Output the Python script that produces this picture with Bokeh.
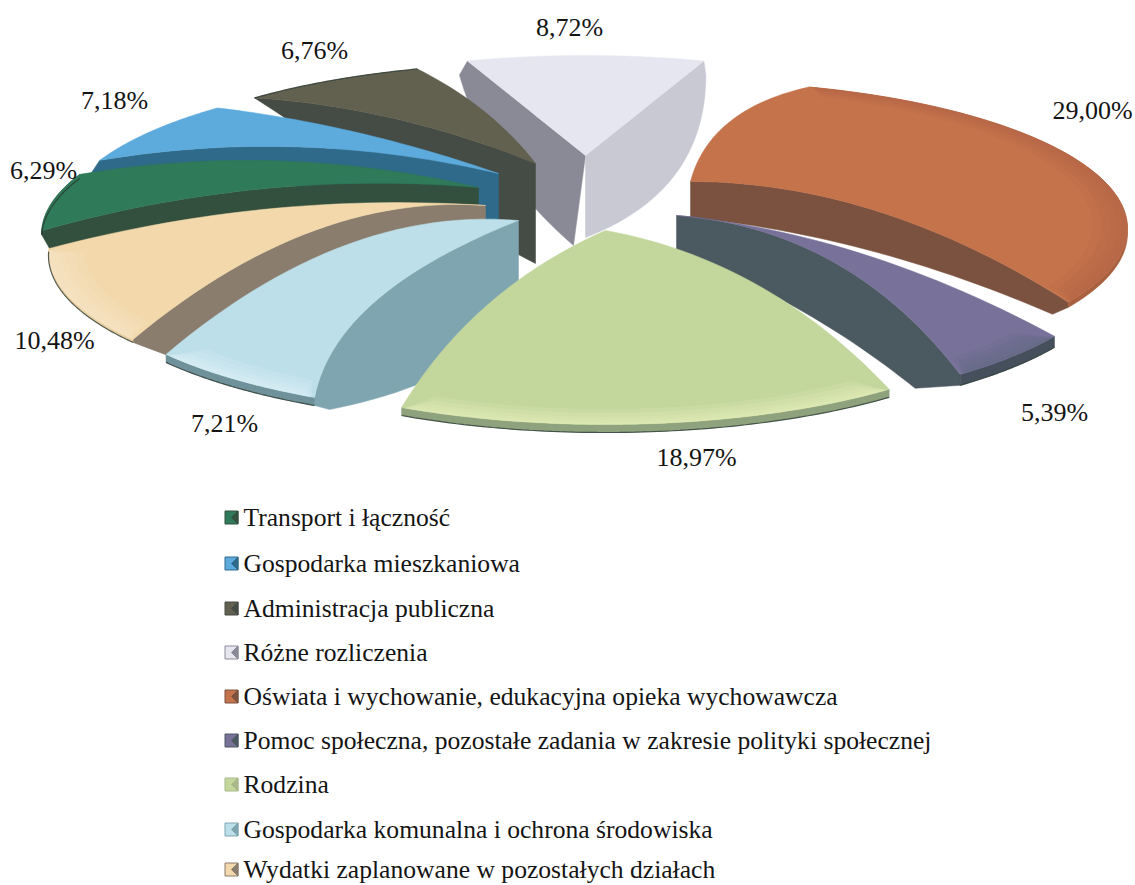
import numpy as np
from bokeh.plotting import figure
from bokeh.models import Range1d
from bokeh.core.properties import value
from bokeh.embed import file_html
from bokeh.resources import INLINE

categories = ["Transport i łączność", "Gospodarka mieszkaniowa", "Administracja publiczna",
              "Różne rozliczenia", "Oświata i wychowanie, edukacyjna opieka wychowawcza",
              "Pomoc społeczna, pozostałe zadania w zakresie polityki społecznej", "Rodzina",
              "Gospodarka komunalna i ochrona środowiska", "Wydatki zaplanowane w pozostałych działach"]
shares = [6.29, 7.18, 6.76, 8.72, 29.00, 5.39, 18.97, 7.21, 10.48]
share_labels = ["6,29%", "7,18%", "6,76%", "8,72%", "29,00%", "5,39%", "18,97%", "7,21%", "10,48%"]
top_colors = ["#2f7a58", "#5dabdc", "#62614f", "#e6e6f0", "#c5734b", "#78719a", "#c3d69c", "#bcdfe9", "#f2d8ab"]
wall_colors = ["#33503f", "#2f6a8a", "#454b45", "#8a8a96", "#7b523f", "#4b5960", "#a9b98a", "#7fa6b0", "#8a7d6d"]
rim_colors = ["#27503c", "#4d94c0", "#50504a", "#d4d4de", "#a9603f", "#46505c", "#8fa27e", "#6f919a", "#e8cfa2"]
glow_colors = [None, None, None, None, "#b4664a", "#5c6a80", "#eef4c4", "#e2f6fc", "#fcebcc"]

# layout (pixels of the page)
START = 271.5
RX, DY, RY = 437.0, 47.0, 147.0
apex = [(478, 187), (498, 173), (535, 163), (585, 155), (690, 181), (676, 215), (605, 230), (518, 220), (485, 205)]
rim_h = [4, 0, 0, 0, 5, 11, 8, 8, 3]
# walls: slice -> (edge, height, dx at apex, top control, bottom control, tip offset, colour)
walls = {
    0: [(0, 18, 0, (0, -40), (0, -20), (8, 18), "#33503f")],
    1: [(0, 50, 0, (0, -40), (0, -30), (-12, 18), "#2f6a8a")],
    2: [(0, 100, 0, (0, -24), (0, 10), (0, 0), "#454b45")],
    3: [(0, 90, -12, (0, 0), (-30, 10), (-8, 14), "#8a8a96"),
        (1, 82, 0, (0, 0), (60, 35), (2, 14), "#c9c9d4")],
    4: [(1, 36, 0, (0, -60), (0, -30), (-16, 12), "#7b523f")],
    5: [(1, 37, 0, (30, -66), (10, -20), (-45, 14), "#4b5960")],
    7: [(0, 60, 0, (-82, -16), (80, 30), (15, 12), "#7fa6b0")],
    8: [(0, 22, 0, (0, -80), (0, -60), (40, 18), "#8a7d6d")],
}
# extra bends of face edges that have no wall: slice -> {edge: control}
face_ctrl = {0: {1: (0, -40)}, 1: {1: (0, -16)}, 4: {0: (-40, -25)}, 5: {0: (0, -42)},
             6: {0: (20, -50), 1: (-30, -30)}, 7: {1: (0, -82)}, 8: {1: (0, -36)}, 2: {1: (15, -10)}}
draw_order = [3, 2, 1, 0, 8, 7, 4, 5, 6]

label_x = [43, 114, 314, 569, 1092, 1054, 696, 224, 54]
label_y = [170, 100, 50, 27, 110, 412, 457, 423, 340]
legend_y = [517, 563, 608, 652, 696, 740, 784, 829, 869]
LEG_X, MARK_X, MARK = 243, 231, 6.5

ends = START + np.cumsum(shares) * 3.6
starts = ends - np.array(shares) * 3.6

p = figure(width=1135, height=885, x_range=Range1d(0, 1135), y_range=Range1d(885, 0),
           output_backend="svg", toolbar_location=None, min_border=0)
p.axis.visible = False
p.grid.visible = False
p.outline_line_color = None
p.background_fill_color = "white"


def pt(i, deg, f=1.0):
    t = np.radians(deg)
    ax, ay = apex[i]
    return np.array([ax + f * RX * np.sin(t), ay + f * (DY - RY * np.cos(t))])


def bez(a, b, ctrl, n=30):
    a, b = np.array(a, float), np.array(b, float)
    c = (a + b) / 2 + np.array(ctrl, float)
    s = np.linspace(0, 1, n)[:, None]
    return (1 - s) ** 2 * a + 2 * s * (1 - s) * c + s ** 2 * b


def arc(i, f=1.0, inset=0.0, n=70):
    return np.array([pt(i, d, f) for d in np.linspace(starts[i] + inset, ends[i] - inset, n)])


def fill(poly, color, alpha=1.0):
    p.patch(poly[:, 0], poly[:, 1], fill_color=color, fill_alpha=alpha,
            line_color=color if alpha == 1.0 else None, line_width=0.5)


for i in draw_order:
    A = np.array(apex[i], float)
    ctrl = dict(face_ctrl.get(i, {}))
    for edge, h, dx, topc, botc, tip, col in walls.get(i, []):
        R = pt(i, starts[i] if edge == 0 else ends[i])
        ctrl[edge] = topc
        top = bez(A, R, topc)
        low = bez(R + np.array(tip), A + np.array([dx, h]), botc)
        corner = (R + np.array([0, rim_h[i]]))[None, :]
        fill(np.vstack([top, corner, low]), col)
    a = arc(i)
    if rim_h[i]:
        fill(np.vstack([a, (a + np.array([0, rim_h[i]]))[::-1]]), rim_colors[i])
    e0 = bez(A, a[0], ctrl.get(0, (0, 0)))
    e1 = bez(a[-1], A, ctrl.get(1, (0, 0)))
    fill(np.vstack([e0, a, e1]), top_colors[i])
    if glow_colors[i]:
        for f in (0.92, 0.94, 0.96, 0.975, 0.99):
            outer = arc(i, 1.0, 0.4)
            inner = arc(i, f, 3.0)
            fill(np.vstack([outer, inner[::-1]]), glow_colors[i], 0.18)
    if i in (0, 2, 5, 6, 7, 8):
        low = a + np.array([0, rim_h[i]])
        p.line(low[:, 0], low[:, 1], line_color="#2b3a32", line_width=1.2, line_alpha=0.8)

font = value("Liberation Serif")
p.text(label_x, label_y, text=share_labels, text_font=font, text_font_size="26px",
       text_align="center", text_baseline="middle", text_color="#141414")

for k, y in enumerate(legend_y):
    x0, x1, y0, y1 = MARK_X - MARK, MARK_X + MARK, y - MARK, y + MARK
    p.patch([x0, x1, x1, x0], [y0, y0, y1, y1], fill_color=top_colors[k],
            line_color=wall_colors[k], line_width=1)
    p.patch([x1, MARK_X, x1], [y0, y, y1], fill_color=wall_colors[k], line_color=wall_colors[k])

p.text([LEG_X] * len(categories), legend_y, text=categories, text_font=font, text_font_size="25.6px",
       text_align="left", text_baseline="middle", text_color="#141414")

open("out.html", "w").write(file_html(p, INLINE))
